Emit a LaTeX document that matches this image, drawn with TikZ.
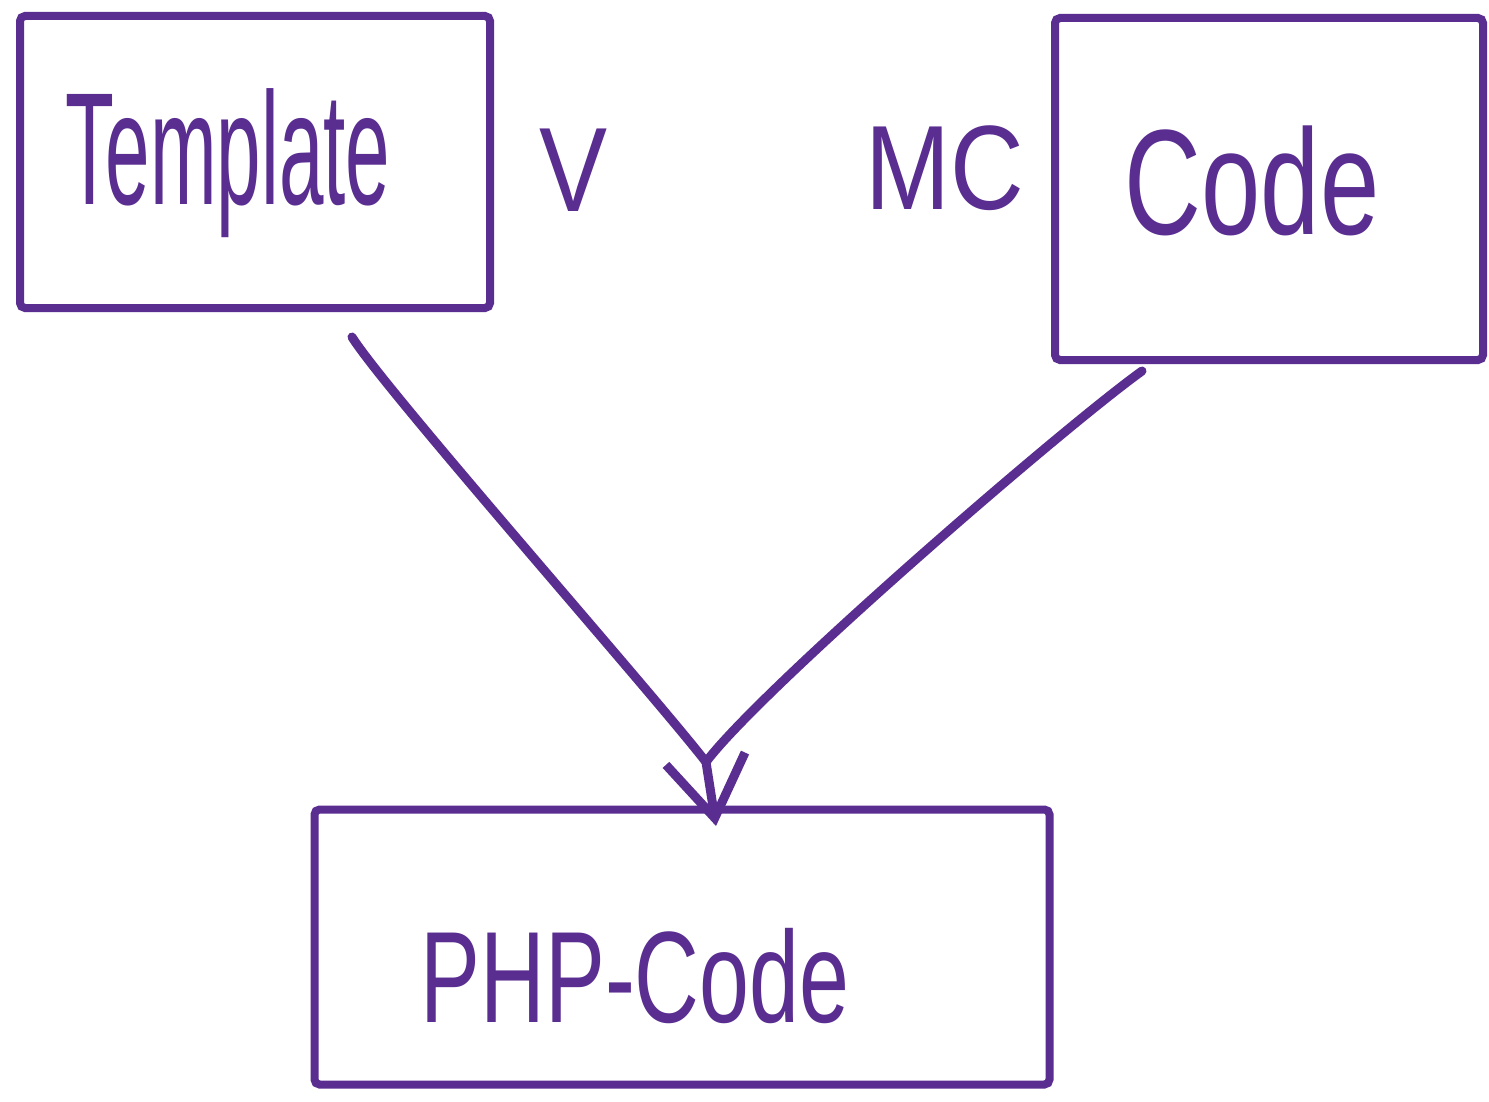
\documentclass[tikz,border=0pt]{standalone}
\usepackage{fontspec}
\setmainfont{Liberation Sans}
\usetikzlibrary{arrows.meta,calc}
\definecolor{ink}{HTML}{5A2D91}
\begin{document}
\begin{tikzpicture}[x=1pt,y=-1pt,
  box/.style={draw=ink, line width=8pt, rounded corners=5pt, inner sep=0pt},
  lbl/.style={text=ink, inner sep=0pt, anchor=base},
  conn/.style={draw=ink, line width=9pt, line cap=round, line join=round},
  tipped/.style={conn, -{Straight Barb[length=60pt,width=80pt,line width=9pt]}}]
\useasboundingbox (0,0) rectangle (1489,1102);
\fill[white] (0,0) rectangle (1489,1102);
% boxes
\node[box, minimum width=470pt, minimum height=292pt] (tmpl) at (255,162) {};
\node[box, minimum width=428pt, minimum height=342pt] (code) at (1269,189) {};
\node[box, minimum width=735pt, minimum height=275pt] (php) at (682,947) {};
% labels
\node[lbl] (ttext) at (228,205) {\fontsize{160}{160}\selectfont\scalebox{0.5}[1]{Template}};
\node[lbl] (vtext) at (574,212) {\fontsize{120}{120}\selectfont\scalebox{0.85}[1]{V}};
\node[lbl] (mctext) at (945,210) {\fontsize{120}{120}\selectfont\scalebox{0.85}[1]{MC}};
\node[lbl] (ctext) at (1252,235) {\fontsize{150}{150}\selectfont\scalebox{0.71}[1]{Code}};
\node[lbl] (ptext) at (635,1022) {\fontsize{130}{130}\selectfont\scalebox{0.69}[1]{PHP-Code}};
% connectors
\coordinate (merge) at (706,762);
\coordinate (tip) at (716,826);
\draw[conn] ($(tmpl.south)+(97,25)$) .. controls (385,390) and (650,690) .. (merge);
\draw[conn] ($(code.south)+(-127,7)$) .. controls (1060,430) and (760,690) .. (merge);
\draw[tipped] (merge) -- (tip);
\end{tikzpicture}
\end{document}
